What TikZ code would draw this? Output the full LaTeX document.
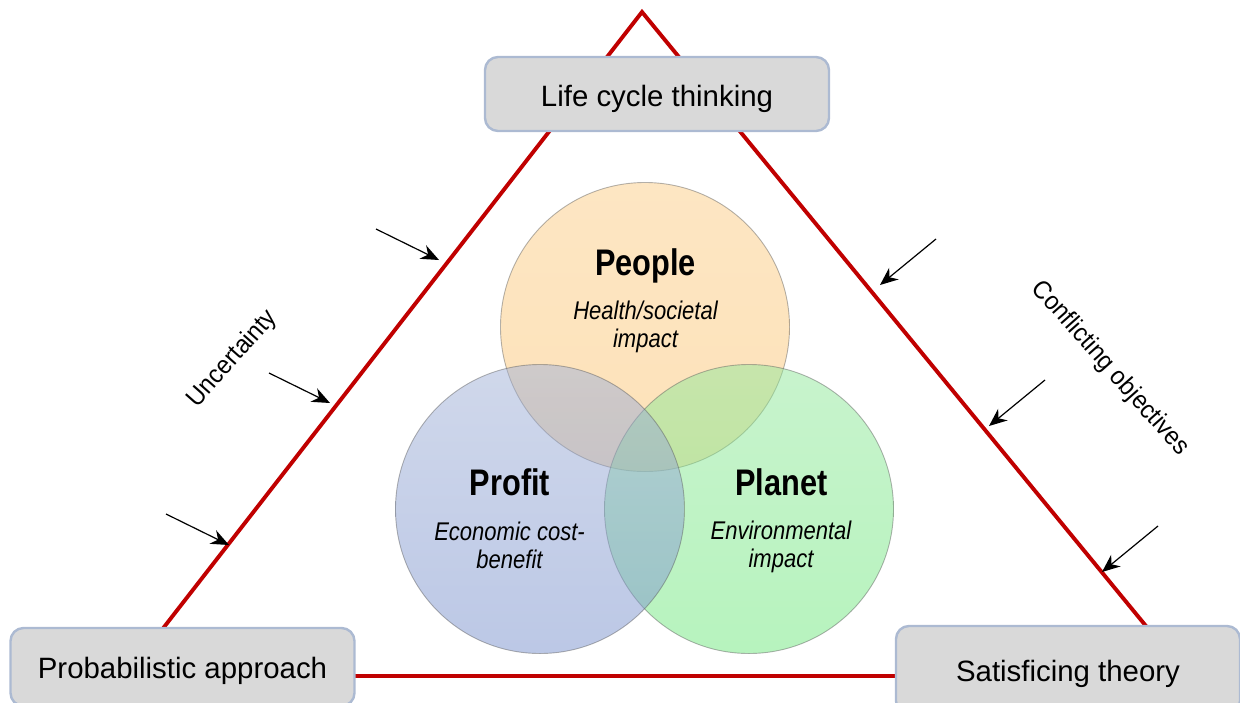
\documentclass[tikz,border=0pt]{standalone}
\usepackage{fontspec}
\setmainfont{Liberation Sans}
\newfontfamily\narrowfont[FakeStretch=0.83]{Liberation Sans}
\newfontfamily\slimfont[FakeStretch=0.86]{Liberation Sans}
\newfontfamily\sidefont[FakeStretch=0.93]{Liberation Sans}
\usetikzlibrary{arrows.meta}
\definecolor{edgered}{RGB}{192,0,0}
\definecolor{boxfill}{RGB}{217,217,217}
\definecolor{boxline}{RGB}{172,186,210}
\definecolor{orangetop}{RGB}{251,205,135}
\definecolor{orangebot}{RGB}{251,197,115}
\definecolor{bluetop}{RGB}{161,177,215}
\definecolor{bluebot}{RGB}{121,145,205}
\definecolor{greentop}{RGB}{145,231,155}
\definecolor{greenbot}{RGB}{111,231,125}
\tikzset{
  corner/.style={draw=boxline,line width=2.4pt,fill=boxfill,rounded corners=13pt,inner sep=0pt,minimum width=#1,font=\fontsize{29.4}{32}\selectfont,text=black,text height=29pt,text depth=6pt},
  edge/.style={draw=edgered,line width=3.9pt,line join=miter},
  pointer/.style={draw=black,line width=1.2pt,-{Stealth[length=18pt,width=15pt]}},
  disc/.style={circle,inner sep=0pt,minimum size=289pt,draw=black!65,line width=.9pt,draw opacity=.45,fill opacity=.5},
  heading/.style={font=\narrowfont\bfseries\fontsize{37}{40}\selectfont,inner sep=0pt},
  detail/.style={font=\slimfont\itshape\fontsize{25.6}{28.5}\selectfont,align=center,inner sep=0pt},
  sidelabel/.style={font=\sidefont\fontsize{25.6}{28}\selectfont,inner sep=0pt},
}
\begin{document}
\begin{tikzpicture}[x=1pt,y=-1pt]
\useasboundingbox (0,0) rectangle (1240,702);
\coordinate (apex) at (642,12);
\coordinate (leftcorner) at (126,676);
\coordinate (rightcorner) at (1187,676);
\draw[edge] (leftcorner) -- (apex) -- (rightcorner) -- cycle;
\node[corner=344pt,minimum height=74pt,text height=31pt] (life) at (657,94) {Life cycle thinking};
\node[corner=344pt,minimum height=78pt] (prob) at (182.5,667) {Probabilistic approach};
\node[corner=344pt,minimum height=88pt] (sat) at (1068,670) {Satisficing theory};
% Venn circles
\node[disc,top color=orangetop,bottom color=orangebot] (people) at (645,327) {};
\node[disc,top color=greentop,bottom color=greenbot] (planet) at (749,509) {};
\node[disc,top color=bluetop,bottom color=bluebot] (profit) at (540,509) {};
% Labels
\node[heading] (peopleh) at (645.5,266) {People};
\node[detail] (peopled) at (645.5,327) {Health/societal\\impact};
\node[heading] (profith) at (510,482) {Profit};
\node[detail] (profitd) at (509.5,545.5) {Economic cost-\\benefit};
\node[heading] (planeth) at (781.5,482) {Planet};
\node[detail] (planetd) at (781,547) {Environmental\\impact};
\node[sidelabel,rotate=48.5] (unc) at (232.5,359) {Uncertainty};
\node[sidelabel,rotate=-48.5] (conf) at (1110,368.5) {Conflicting objectives};
% Pointers
\coordinate (l1a) at (376,229); \coordinate (l1b) at (439,260);
\coordinate (l2a) at (269,373); \coordinate (l2b) at (330,403);
\coordinate (l3a) at (166,514); \coordinate (l3b) at (229,545);
\coordinate (r1a) at (936,239); \coordinate (r1b) at (880,285);
\coordinate (r2a) at (1045,380); \coordinate (r2b) at (989,426);
\coordinate (r3a) at (1158,526); \coordinate (r3b) at (1102,572);
\draw[pointer] (l1a) -- (l1b);
\draw[pointer] (l2a) -- (l2b);
\draw[pointer] (l3a) -- (l3b);
\draw[pointer] (r1a) -- (r1b);
\draw[pointer] (r2a) -- (r2b);
\draw[pointer] (r3a) -- (r3b);
\end{tikzpicture}
\end{document}
